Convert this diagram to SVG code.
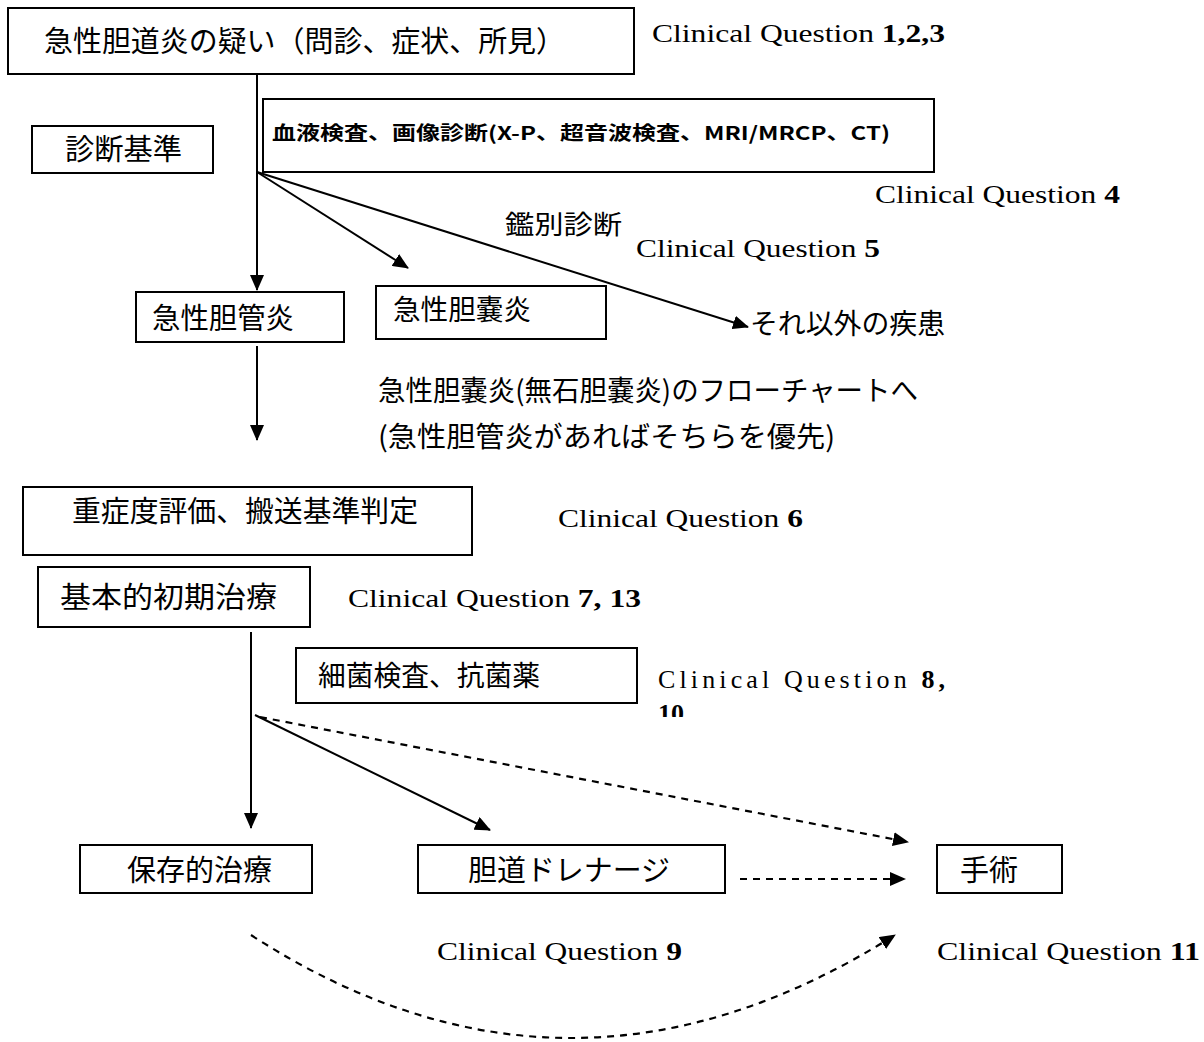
<svg xmlns="http://www.w3.org/2000/svg" width="1204" height="1042" viewBox="0 0 1204 1042">
<style>
.box{fill:#fff;stroke:#000;stroke-width:2}
.jp{font-family:"Noto Sans CJK JP","Noto Sans",sans-serif;fill:#000}
.cq{font-family:"Liberation Serif","DejaVu Serif",serif;fill:#000}
.b{font-weight:bold}
.ln{fill:none;stroke:#000;stroke-width:2}
.dash{fill:none;stroke:#000;stroke-width:2.2;stroke-dasharray:7,6}
</style>
<defs>
<marker id="ah" markerUnits="userSpaceOnUse" markerWidth="16" markerHeight="14" refX="15" refY="7" orient="auto">
<path d="M0,0 L16,7 L0,14 Z" fill="#000"/>
</marker>
<clipPath id="clip10"><rect x="650" y="700" width="80" height="17"/></clipPath>
</defs>
<rect width="1204" height="1042" fill="#fff"/>

<g id="connectors">
<line class="ln" x1="257" y1="74" x2="257" y2="290" marker-end="url(#ah)"/>
<line class="ln" x1="257" y1="172" x2="408" y2="268" marker-end="url(#ah)"/>
<line class="ln" x1="257" y1="172" x2="748" y2="327" marker-end="url(#ah)"/>
<line class="ln" x1="257" y1="346" x2="257" y2="440" marker-end="url(#ah)"/>
<line class="ln" x1="251" y1="632" x2="251" y2="828" marker-end="url(#ah)"/>
<line class="ln" x1="255" y1="715" x2="490" y2="830" marker-end="url(#ah)"/>
<line class="dash" x1="260" y1="717" x2="908" y2="842" marker-end="url(#ah)"/>
<line class="dash" x1="740" y1="879" x2="905" y2="879" marker-end="url(#ah)"/>
<path class="dash" d="M251,935 Q569,1141 895,935" marker-end="url(#ah)"/>
</g>

<g id="n1"><rect class="box" x="8" y="8" width="626" height="66"/>
<text class="jp" x="44" y="52" font-size="29" textLength="521" lengthAdjust="spacingAndGlyphs">急性胆道炎の疑い（問診、症状、所見）</text></g>
<text class="cq" x="652" y="42" font-size="26" textLength="293" lengthAdjust="spacingAndGlyphs">Clinical Question <tspan class="b">1,2,3</tspan></text>

<g id="n2"><rect class="box" x="32" y="126" width="181" height="47"/>
<text class="jp" x="65" y="160" font-size="29" textLength="117" lengthAdjust="spacingAndGlyphs">診断基準</text></g>

<g id="n3"><rect class="box" x="263" y="99" width="671" height="73"/>
<text class="jp b" x="272" y="140" font-size="19" textLength="618" lengthAdjust="spacingAndGlyphs">血液検査、画像診断(X-P、超音波検査、MRI/MRCP、CT)</text></g>
<text class="cq" x="875" y="203" font-size="26" textLength="245" lengthAdjust="spacingAndGlyphs">Clinical Question <tspan class="b">4</tspan></text>
<text class="jp" x="505" y="234" font-size="26" textLength="117" lengthAdjust="spacingAndGlyphs">鑑別診断</text>
<text class="cq" x="636" y="257" font-size="26" textLength="244" lengthAdjust="spacingAndGlyphs">Clinical Question <tspan class="b">5</tspan></text>

<g id="n4"><rect class="box" x="136" y="292" width="208" height="50"/>
<text class="jp" x="152" y="329" font-size="29" textLength="142" lengthAdjust="spacingAndGlyphs">急性胆管炎</text></g>
<g id="n5"><rect class="box" x="376" y="286" width="230" height="53"/>
<text class="jp" x="393" y="320" font-size="28" textLength="138" lengthAdjust="spacingAndGlyphs">急性胆嚢炎</text></g>
<g id="n6"><text class="jp" x="750" y="334" font-size="28" textLength="195" lengthAdjust="spacingAndGlyphs">それ以外の疾患</text></g>

<text class="jp" x="378" y="401" font-size="28" textLength="540" lengthAdjust="spacingAndGlyphs">急性胆嚢炎(無石胆嚢炎)のフローチャートへ</text>
<text class="jp" x="378" y="447" font-size="28" textLength="457" lengthAdjust="spacingAndGlyphs">(急性胆管炎があればそちらを優先)</text>

<g id="n7"><rect class="box" x="23" y="487" width="449" height="68"/>
<text class="jp" x="72" y="522" font-size="29" textLength="346" lengthAdjust="spacingAndGlyphs">重症度評価、搬送基準判定</text></g>
<text class="cq" x="558" y="527" font-size="26" textLength="245" lengthAdjust="spacingAndGlyphs">Clinical Question <tspan class="b">6</tspan></text>

<g id="n8"><rect class="box" x="38" y="567" width="272" height="60"/>
<text class="jp" x="60" y="608" font-size="29" textLength="217" lengthAdjust="spacingAndGlyphs">基本的初期治療</text></g>
<text class="cq" x="348" y="607" font-size="26" textLength="293" lengthAdjust="spacingAndGlyphs">Clinical Question <tspan class="b">7, 13</tspan></text>

<g id="n9"><rect class="box" x="296" y="648" width="341" height="55"/>
<text class="jp" x="318" y="686" font-size="28" textLength="222" lengthAdjust="spacingAndGlyphs">細菌検査、抗菌薬</text></g>
<text class="cq" x="658" y="688" font-size="26" textLength="287" lengthAdjust="spacing">Clinical   Question   <tspan class="b">8,</tspan></text>
<text class="cq b" x="658" y="722" font-size="26" clip-path="url(#clip10)">10</text>

<g id="n10"><rect class="box" x="80" y="845" width="232" height="48"/>
<text class="jp" x="127" y="881" font-size="29" textLength="145" lengthAdjust="spacingAndGlyphs">保存的治療</text></g>
<g id="n11"><rect class="box" x="418" y="845" width="307" height="48"/>
<text class="jp" x="468" y="881" font-size="29" textLength="202" lengthAdjust="spacingAndGlyphs">胆道ドレナージ</text></g>
<g id="n12"><rect class="box" x="937" y="845" width="125" height="48"/>
<text class="jp" x="960" y="881" font-size="29" textLength="58" lengthAdjust="spacingAndGlyphs">手術</text></g>

<text class="cq" x="437" y="960" font-size="26" textLength="245" lengthAdjust="spacingAndGlyphs">Clinical Question <tspan class="b">9</tspan></text>
<text class="cq" x="937" y="960" font-size="26" textLength="263" lengthAdjust="spacingAndGlyphs">Clinical Question <tspan class="b">11</tspan></text>
</svg>
